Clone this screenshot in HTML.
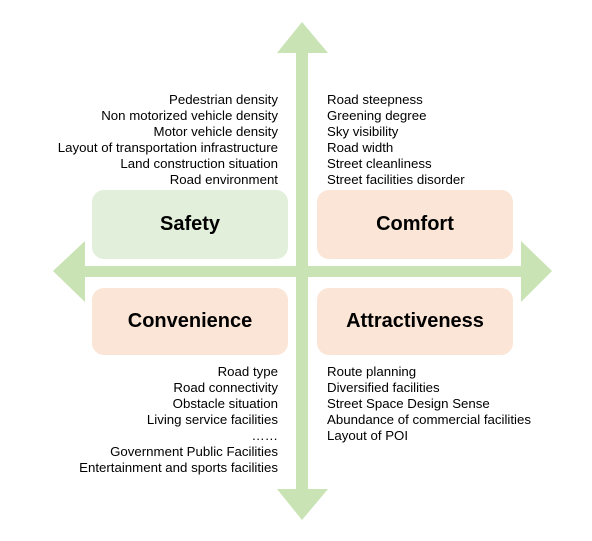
<!DOCTYPE html>
<html><head><style>
body{margin:0;width:592px;height:541px;background:#fff;position:relative;overflow:hidden;font-family:"Liberation Sans",Arial,sans-serif}
.box{position:absolute;border-radius:12px;display:flex;align-items:center;justify-content:center;font-weight:bold;font-size:20px;color:#000}
.t{position:absolute;font-size:13.25px;line-height:16px;color:#000;white-space:nowrap}
.r{text-align:right}
</style></head><body>
<svg width="592" height="541" style="position:absolute;left:0;top:0">
<g fill="#c9e3b4">
<rect x="296" y="50" width="12" height="442"/>
<polygon points="302,22 328,53 277,53"/>
<polygon points="302,520 328,489 277,489"/>
<rect x="82" y="266" width="442" height="11"/>
<polygon points="53,271 85,241 85,302"/>
<polygon points="552,271 521,241 521,302"/>
</g>
</svg>
<div class="box" style="left:92px;top:190px;width:196px;height:69px;background:#e2efda">Safety</div>
<div class="box" style="left:317px;top:190px;width:196px;height:69px;background:#fbe5d6">Comfort</div>
<div class="box" style="left:92px;top:288px;width:196px;height:67px;background:#fbe5d6">Convenience</div>
<div class="box" style="left:317px;top:288px;width:196px;height:67px;background:#fbe5d6">Attractiveness</div>
<div class="t r" style="right:314px;top:92px">Pedestrian density<br>Non motorized vehicle density<br>Motor vehicle density<br>Layout of transportation infrastructure<br>Land construction situation<br>Road environment</div>
<div class="t" style="left:327px;top:92px">Road steepness<br>Greening degree<br>Sky visibility<br>Road width<br>Street cleanliness<br>Street facilities disorder</div>
<div class="t r" style="right:314px;top:364px">Road type<br>Road connectivity<br>Obstacle situation<br>Living service facilities<br>……<br>Government Public Facilities<br>Entertainment and sports facilities</div>
<div class="t" style="left:327px;top:364px">Route planning<br>Diversified facilities<br>Street Space Design Sense<br>Abundance of commercial facilities<br>Layout of POI</div>
</body></html>
